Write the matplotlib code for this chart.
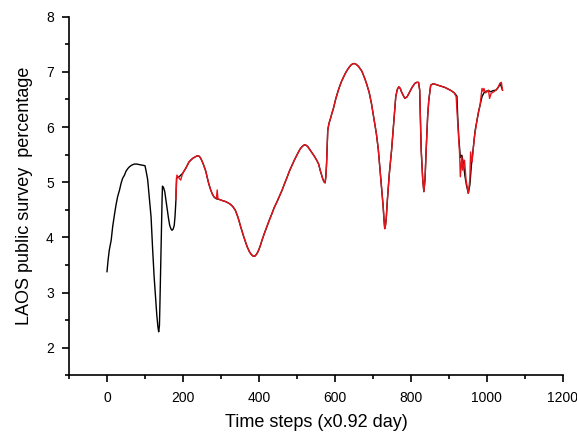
import matplotlib
matplotlib.use("Agg")
import matplotlib.pyplot as plt
from matplotlib.ticker import MultipleLocator

plt.rcParams['font.family'] = ['Liberation Sans', 'DejaVu Sans']

# Black series (full smooth curve)
black_x = [0, 3, 6, 11, 15, 20, 24, 28, 33, 37, 41, 46, 50, 55, 59, 65, 72, 78, 85, 92, 100, 103, 107, 111, 116, 120, 124,
           128, 131, 134, 136, 138, 139, 141, 143, 145, 146, 149, 152, 155, 159, 162, 165, 168, 171, 174, 177, 179, 181, 183,
           190, 199, 207, 216, 225, 232, 238, 243, 247, 251, 255, 260, 264, 268, 273, 277, 282, 288, 295, 303, 312, 318, 325, 331, 338,
           345, 352, 360, 369, 375, 380, 385, 389, 394, 398, 403, 408, 414, 420, 427, 434, 440, 447, 454, 461, 467, 474, 480, 487, 493, 498, 504, 509, 514, 520,
           524, 528, 535, 540, 545, 552, 557, 561, 565, 568, 571, 574, 576, 578, 581, 584, 588, 592, 596, 602, 609, 614, 618, 623, 627, 632, 638, 643, 648,
           653, 657, 662, 666, 671, 675, 679, 683, 690, 696, 702, 709, 714, 718, 723, 727, 729, 731, 733, 735, 738, 743, 749, 755, 760, 764, 768, 772, 775, 780, 784,
           790, 797, 803, 810, 815, 820, 823, 827, 831, 834, 837, 840, 844, 847, 852, 857, 862, 875, 889, 906,
           914, 921, 923, 926, 930, 934, 938, 942, 946, 951, 955, 959, 963, 966, 969, 974, 978, 982, 987,
           992, 998, 1004, 1010, 1016, 1024, 1030, 1035, 1041]
black_y = [3.38, 3.60, 3.77, 3.95, 4.20, 4.43, 4.60, 4.74, 4.86, 4.98, 5.07, 5.13, 5.20, 5.25, 5.28, 5.31, 5.33, 5.33, 5.32, 5.31, 5.30, 5.20, 5.05, 4.75, 4.37, 3.80, 3.29,
           2.90, 2.60, 2.38, 2.29, 2.40, 2.70, 3.40, 4.20, 4.70, 4.93, 4.90, 4.83, 4.68, 4.49, 4.34, 4.22, 4.16, 4.13, 4.15, 4.22, 4.38, 4.62, 5.08,
           5.10, 5.16, 5.25, 5.37, 5.43, 5.46, 5.48, 5.47, 5.43, 5.37, 5.30, 5.20, 5.08, 4.97, 4.86, 4.79, 4.73, 4.70, 4.69, 4.67, 4.65, 4.63, 4.60, 4.56, 4.49,
           4.36, 4.19, 4.01, 3.83, 3.74, 3.69, 3.66, 3.66, 3.70, 3.75, 3.84, 3.95, 4.07, 4.18, 4.31, 4.43, 4.54, 4.64, 4.75, 4.86, 4.97, 5.09, 5.20, 5.31, 5.40, 5.47, 5.55, 5.61, 5.65, 5.68,
           5.67, 5.65, 5.58, 5.53, 5.48, 5.40, 5.33, 5.22, 5.13, 5.06, 5.01, 4.99, 5.10, 5.35, 5.94, 6.06, 6.15, 6.25, 6.34, 6.51, 6.67, 6.77, 6.84, 6.91, 6.97, 7.03, 7.09, 7.13, 7.15,
           7.15, 7.13, 7.10, 7.06, 7.01, 6.94, 6.87, 6.79, 6.63, 6.43, 6.18, 5.88, 5.60, 5.28, 4.90, 4.55, 4.33, 4.16, 4.22, 4.35, 4.68, 5.15, 5.58, 6.10, 6.55, 6.68, 6.73, 6.70, 6.64, 6.57, 6.52,
           6.55, 6.64, 6.72, 6.79, 6.81, 6.81, 6.67, 5.58, 5.05, 4.83, 5.05, 5.58, 6.20, 6.49, 6.76, 6.78, 6.78, 6.75, 6.72, 6.66,
           6.62, 6.56, 6.20, 5.80, 5.45, 5.49, 5.35, 5.12, 4.95, 4.80, 4.95, 5.30, 5.55, 5.75, 5.94, 6.13, 6.28, 6.40, 6.55,
           6.62, 6.65, 6.66, 6.64, 6.66, 6.67, 6.72, 6.79, 6.67]

# Red series (from ~181 on, with noisy spikes)
red_x = [181, 184, 190, 194, 199, 207, 216, 225, 232, 238, 243, 247, 251, 255, 260, 264, 268, 273, 277, 282, 288, 290, 292, 295,
         303, 312, 318, 325, 331, 338, 345, 352, 360, 369, 375, 380, 385, 389, 394, 398, 403, 408, 414, 420, 427, 434, 440, 447, 454,
         461, 467, 474, 480, 487, 493, 498, 504, 509, 514, 520,
         524, 528, 535, 540, 545, 552, 557, 561, 565, 568, 571, 574, 576, 578, 581, 584, 588, 592, 596, 602, 609, 614, 618, 623, 627, 632, 638, 643, 648,
         653, 657, 662, 666, 671, 675, 679, 683, 690, 696, 702, 709, 714, 718, 723, 727, 729, 731, 733, 735, 738, 743, 749, 755, 760, 764, 768, 772, 775, 780, 784,
         790, 797, 803, 810, 815, 820, 823, 827, 831, 834, 837, 840, 844, 847, 852, 857, 862, 875, 889, 906,
         914, 919, 923, 928, 930, 934, 936, 941, 945, 951, 955, 957, 960, 962, 967, 974, 978, 982, 987,
         990, 992, 996, 1000, 1004, 1007, 1011, 1018, 1024, 1030, 1035, 1038, 1041]
red_y = [4.68, 5.13, 5.07, 5.04, 5.16, 5.25, 5.37, 5.43, 5.46, 5.48, 5.47, 5.43, 5.37, 5.30, 5.20, 5.08, 4.97, 4.86, 4.79, 4.73, 4.71, 4.86, 4.70, 4.69,
         4.67, 4.65, 4.63, 4.60, 4.56, 4.49, 4.36, 4.19, 4.01, 3.83, 3.74, 3.69, 3.66, 3.66, 3.70, 3.75, 3.84, 3.95, 4.07, 4.18, 4.31, 4.43, 4.54, 4.64, 4.75,
         4.86, 4.97, 5.09, 5.20, 5.31, 5.40, 5.47, 5.55, 5.61, 5.65, 5.68,
         5.67, 5.65, 5.58, 5.53, 5.48, 5.40, 5.33, 5.22, 5.13, 5.06, 5.01, 4.99, 5.10, 5.35, 5.94, 6.06, 6.15, 6.25, 6.34, 6.51, 6.67, 6.77, 6.84, 6.91, 6.97, 7.03, 7.09, 7.13, 7.15,
         7.15, 7.13, 7.10, 7.06, 7.01, 6.94, 6.87, 6.79, 6.63, 6.43, 6.18, 5.88, 5.60, 5.28, 4.90, 4.55, 4.33, 4.16, 4.22, 4.35, 4.68, 5.15, 5.58, 6.10, 6.55, 6.68, 6.73, 6.70, 6.64, 6.57, 6.52,
         6.55, 6.64, 6.72, 6.79, 6.81, 6.81, 6.67, 5.58, 5.05, 4.83, 5.05, 5.58, 6.20, 6.49, 6.76, 6.78, 6.78, 6.75, 6.72, 6.66,
         6.62, 6.55, 6.10, 5.52, 5.10, 5.46, 5.22, 5.40, 5.04, 4.80, 5.05, 5.55, 5.37, 5.45, 5.82, 6.13, 6.28, 6.40, 6.70,
         6.65, 6.70, 6.62, 6.64, 6.67, 6.52, 6.61, 6.64, 6.67, 6.73, 6.80, 6.81, 6.67]

x_ticks = [0, 200, 400, 600, 800, 1000, 1200]
y_ticks = [2, 3, 4, 5, 6, 7, 8]

fig = plt.figure(figsize=(5.77, 4.33), dpi=100)
ax = fig.add_axes([0.1196, 0.133, 0.856, 0.8284])

ax.plot(black_x, black_y, color='black', lw=1.0)
ax.plot(red_x, red_y, color='#e8141c', lw=1.0)

ax.set_xlim(-100, 1200)
ax.set_ylim(1.5, 8)
ax.set_xticks(x_ticks)
ax.set_yticks(y_ticks)
ax.xaxis.set_minor_locator(MultipleLocator(100))
ax.yaxis.set_minor_locator(MultipleLocator(0.5))

for s in ['top', 'right']:
    ax.spines[s].set_visible(False)
for s in ['left', 'bottom']:
    ax.spines[s].set_linewidth(1.2)

ax.tick_params(which='major', direction='out', length=5, width=1.2, labelsize=10, pad=6)
ax.tick_params(which='minor', direction='out', length=3, width=1.2)

ax.set_xlabel('Time steps (x0.92 day)', fontsize=13, labelpad=7)
ax.set_ylabel('LAOS public survey  percentage', fontsize=13, labelpad=9)

fig.savefig('out.png', dpi=100)
